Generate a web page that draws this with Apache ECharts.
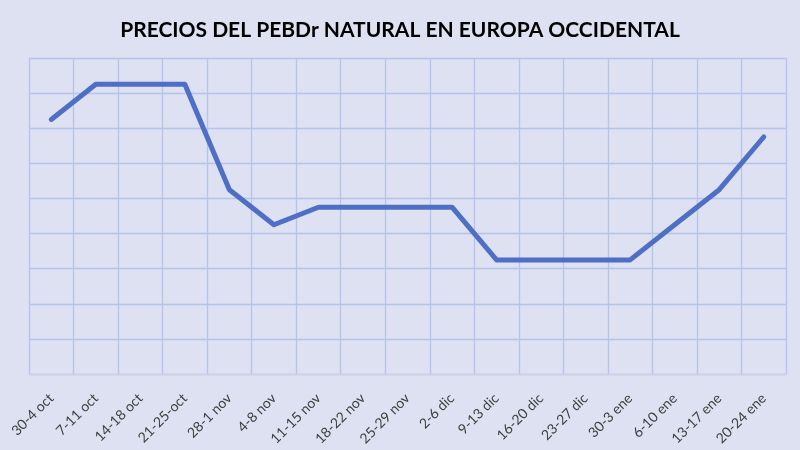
<!DOCTYPE html>
<html>
<head>
<meta charset="utf-8">
<script src="https://cdn.jsdelivr.net/npm/echarts@6/dist/echarts.min.js"></script>
<style>
  html, body { margin: 0; padding: 0; background: #dde1f1; }
  #main { width: 800px; height: 450px; }
</style>
</head>
<body>
<div id="main"></div>
<script>
// semanas (eje X)
var semanas = ['30-4 oct', '7-11 oct', '14-18 oct', '21-25-oct', '28-1 nov', '4-8 nov',
    '11-15 nov', '18-22 nov', '25-29 nov', '2-6 dic', '9-13 dic', '16-20 dic',
    '23-27 dic', '30-3 ene', '6-10 ene', '13-17 ene', '20-24 ene'];
// precios (sin escala visible, en divisiones de la rejilla)
var precios = [7.25, 8.25, 8.25, 8.25, 5.25, 4.25, 4.75, 4.75, 4.75, 4.75,
    3.25, 3.25, 3.25, 3.25, 4.25, 5.25, 6.75];

var myChart = echarts.init(document.getElementById('main'));
myChart.setOption({
    backgroundColor: '#dde1f1',
    animation: false,
    title: {
        text: 'PRECIOS DEL PEBDr NATURAL EN EUROPA OCCIDENTAL',
        left: 'center',
        top: 15,
        textStyle: {
            fontFamily: 'Lato',
            fontWeight: 'bold',
            fontSize: 21,
            color: '#000000'
        }
    },
    grid: {
        left: 29,
        right: 14,
        top: 58,
        bottom: 76,
        containLabel: false
    },
    xAxis: {
        type: 'category',
        data: semanas,
        boundaryGap: true,
        axisLine: { lineStyle: { color: '#cfd2dc', width: 1 } },
        axisTick: { show: false },
        axisLabel: {
            rotate: 45,
            interval: 0,
            margin: 22,
            fontFamily: 'Lato',
            fontSize: 14,
            color: '#404040'
        },
        splitLine: {
            show: true,
            lineStyle: { color: '#b4c4ea', width: 1.3 }
        }
    },
    yAxis: {
        type: 'value',
        min: 0,
        max: 9,
        interval: 1,
        axisLine: { show: false },
        axisTick: { show: false },
        axisLabel: { show: false },
        splitLine: {
            show: true,
            lineStyle: { color: '#b4c4ea', width: 1.3 }
        }
    },
    series: [{
        type: 'line',
        data: precios,
        symbol: 'none',
        lineStyle: { color: '#4f6fc6', width: 5, cap: 'round', join: 'round' }
    }]
});
</script>
</body>
</html>
